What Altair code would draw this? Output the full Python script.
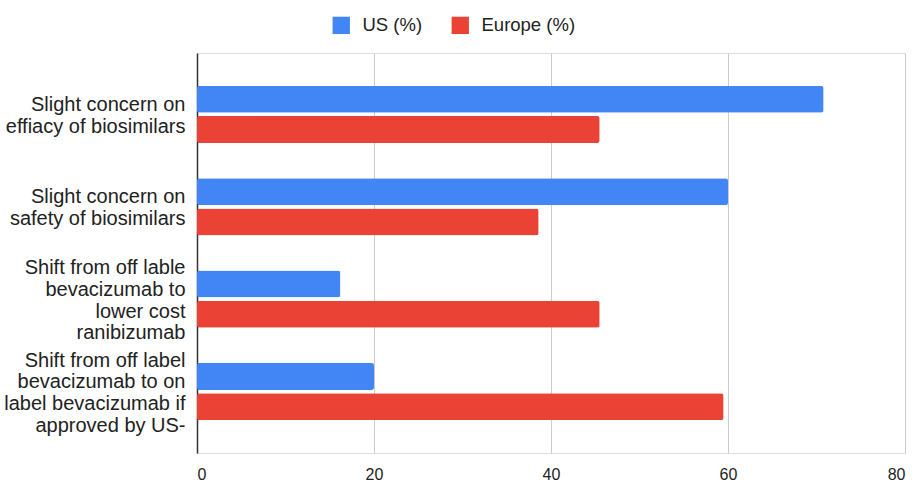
import altair as alt
import pandas as pd

categories = [
    "Slight concern on|effiacy of biosimilars",
    "Slight concern on|safety of biosimilars",
    "Shift from off lable|bevacizumab to|lower cost|ranibizumab",
    "Shift from off label|bevacizumab to on|label bevacizumab if|approved by US-",
]
series = ["US (%)", "Europe (%)"]
us_values = [70.8, 60.0, 16.2, 20.0]
europe_values = [45.5, 38.6, 45.5, 59.5]
x_ticks = [0, 20, 40, 60, 80]

rows = []
for c, u, e in zip(categories, us_values, europe_values):
    rows.append({"category": c, "series": series[0], "value": u})
    rows.append({"category": c, "series": series[1], "value": e})
df = pd.DataFrame(rows)

# multi-line labels: two-line labels get a leading blank line so that a single
# label offset centres every label on its group
label_expr = (
    "length(split(datum.label, '|')) == 2 ? "
    "split('|' + datum.label, '|') : split(datum.label, '|')"
)

chart = (
    alt.Chart(df)
    .mark_bar(cornerRadius=2.5)
    .encode(
        y=alt.Y(
            "category:N",
            sort=categories,
            scale=alt.Scale(paddingInner=0.38, paddingOuter=0.355),
            axis=alt.Axis(
                title=None,
                labelExpr=label_expr,
                labelFont="Liberation Sans",
                labelFontSize=20,
                labelLineHeight=21.7,
                labelColor="#222222",
                labelPadding=12,
                labelLimit=300,
                labelOffset=-31,
                ticks=False,
                domainColor="#333333",
                domainWidth=1.5,
                grid=False,
            ),
        ),
        yOffset=alt.YOffset(
            "series:N",
            sort=series,
            scale=alt.Scale(paddingInner=0.11, paddingOuter=0),
        ),
        x=alt.X(
            "value:Q",
            scale=alt.Scale(domain=[0, 80], nice=False),
            axis=alt.Axis(
                title=None,
                values=x_ticks,
                labelFont="Liberation Sans",
                labelFontSize=16,
                labelColor="#222222",
                labelPadding=13,
                ticks=False,
                domain=False,
                grid=True,
                gridColor="#cccccc",
                gridWidth=1,
            ),
        ),
        color=alt.Color(
            "series:N",
            sort=series,
            scale=alt.Scale(domain=series, range=["#4285F4", "#EA4335"]),
            legend=alt.Legend(
                title=None,
                orient="none",
                direction="horizontal",
                legendX=135,
                legendY=-37,
                symbolType="square",
                symbolSize=300,
                symbolStrokeWidth=0,
                symbolOpacity=1,
                labelFont="Liberation Sans",
                labelFontSize=18.5,
                labelColor="#222222",
                labelOffset=12,
                columnPadding=28,
            ),
        ),
    )
    .properties(
        width=708,
        height=400,
        padding={"left": 197, "top": 53, "right": 13, "bottom": 30},
        autosize=alt.AutoSizeParams(type="none"),
    )
    .configure_view(stroke=None)
    .configure(background="white")
)

chart.save("out.html", embed_options={"renderer": "svg", "actions": False})
